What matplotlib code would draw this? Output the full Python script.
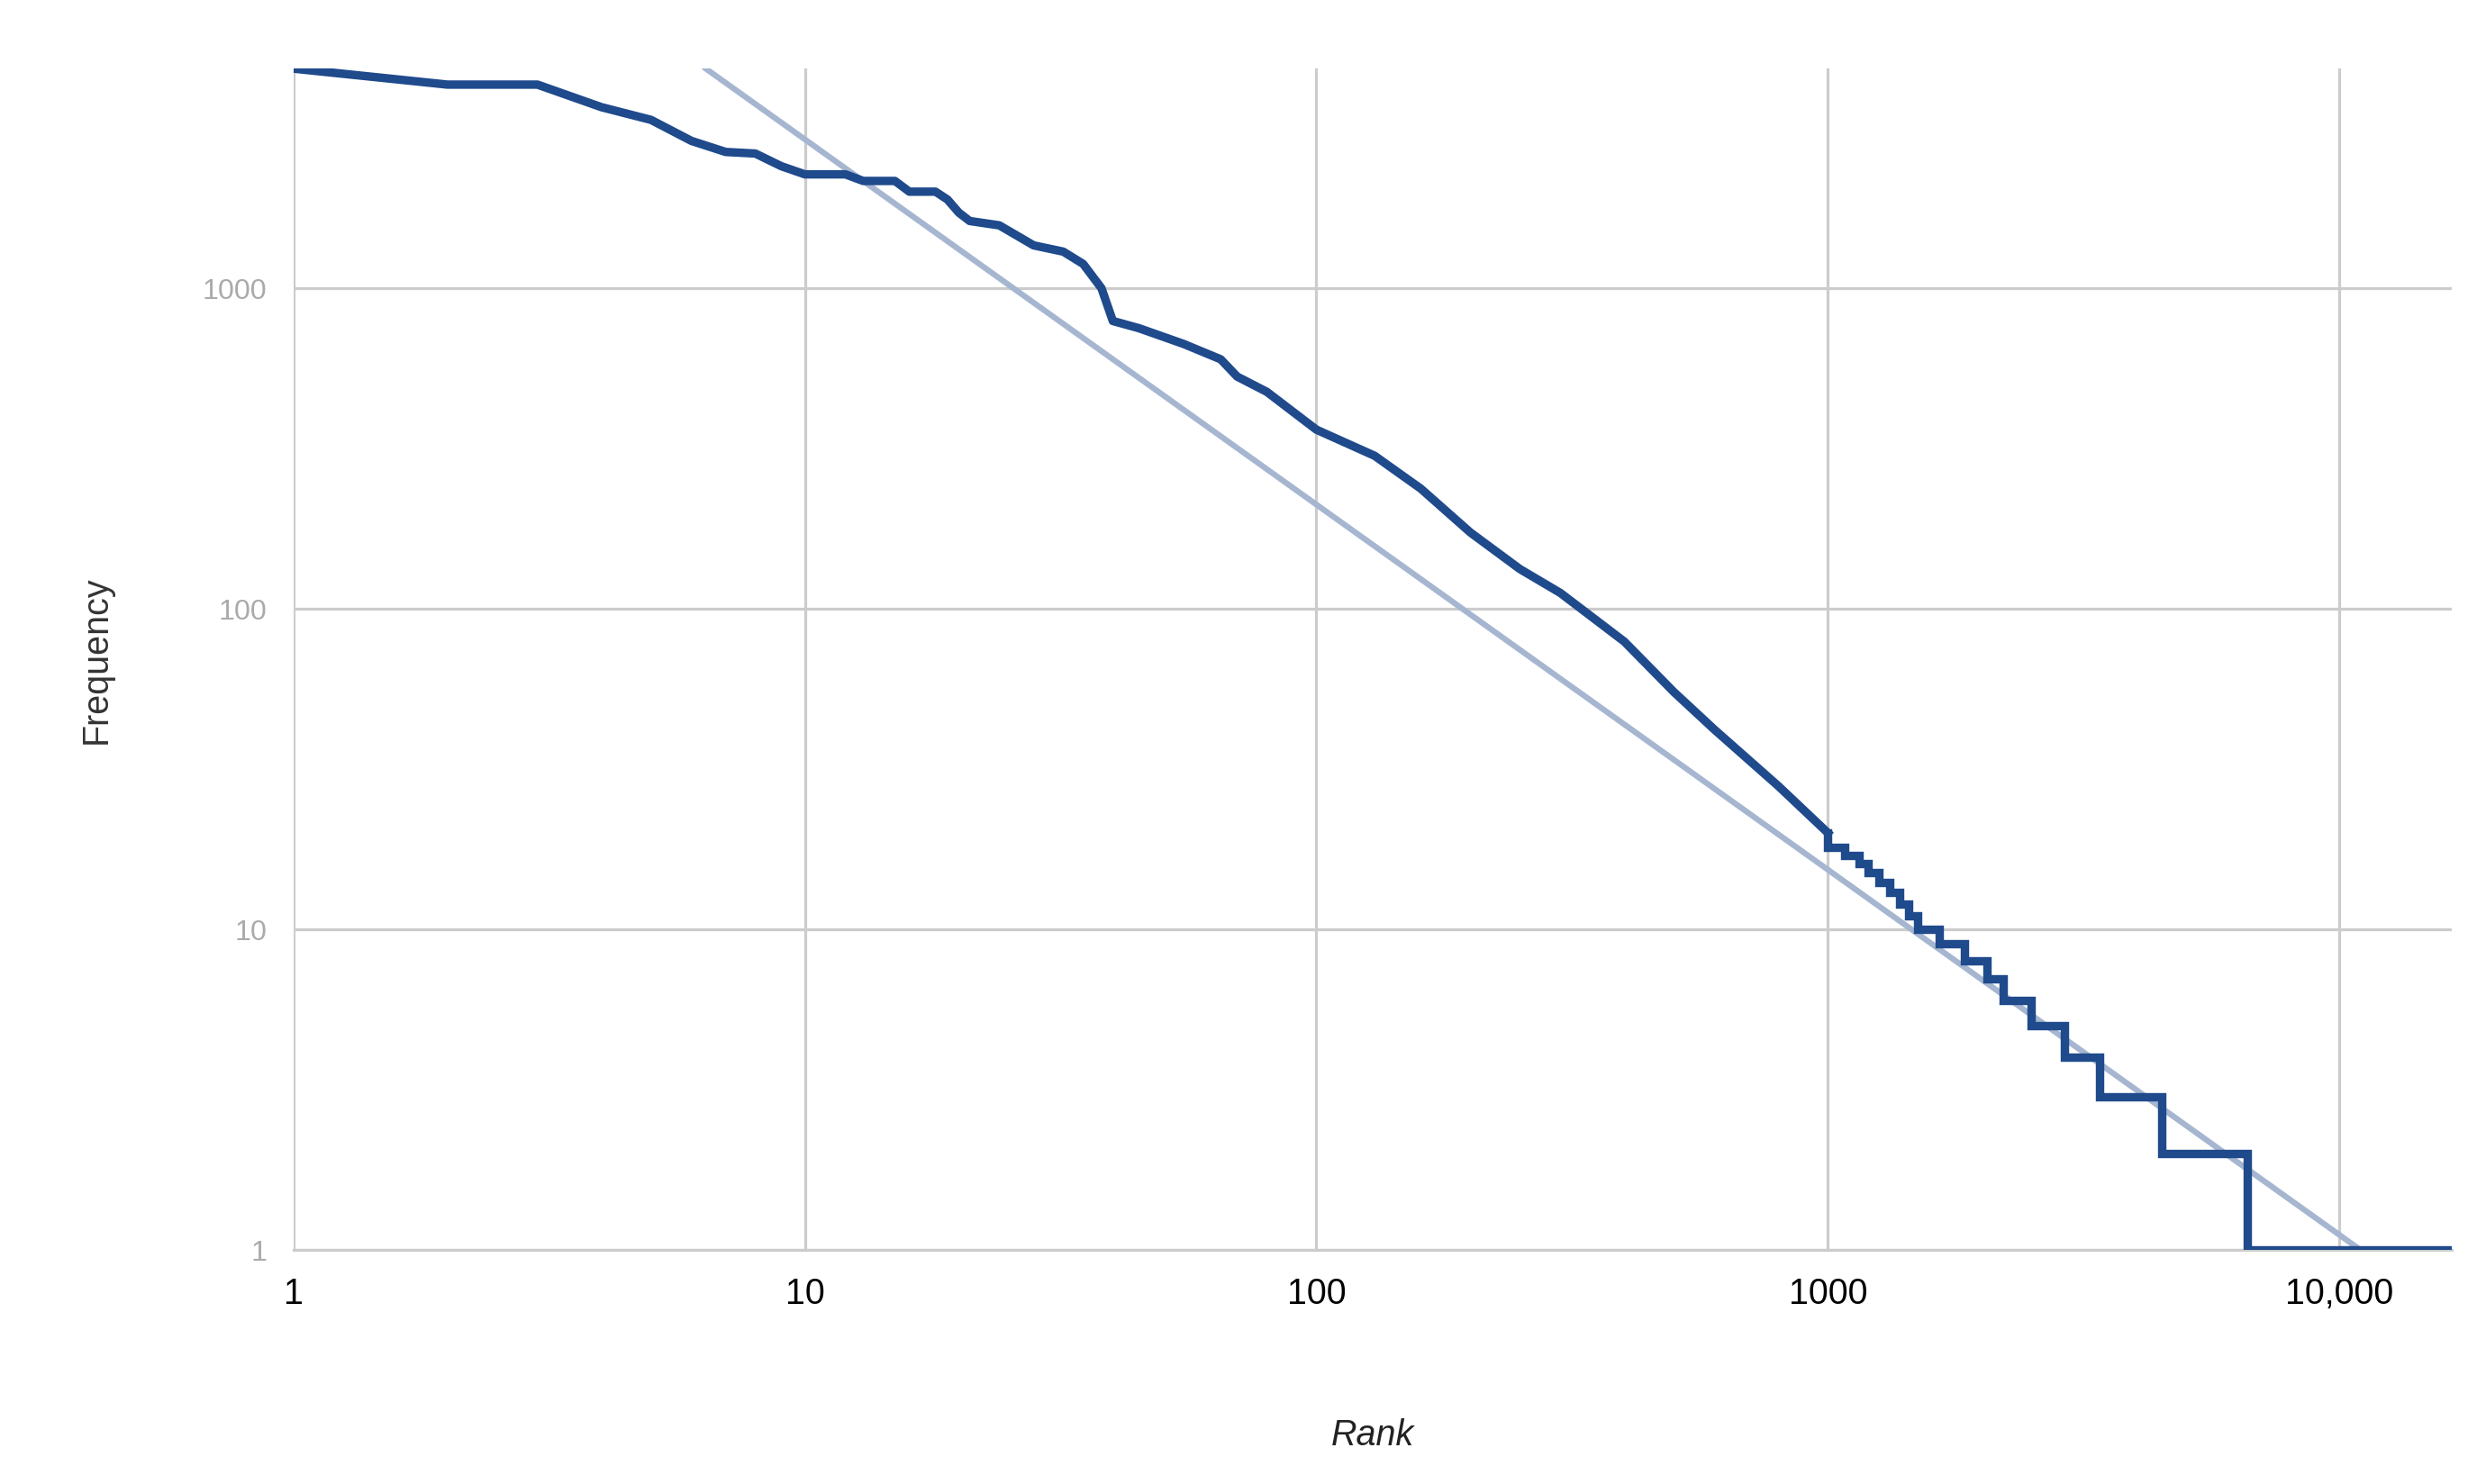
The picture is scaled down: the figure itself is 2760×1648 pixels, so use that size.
import matplotlib.pyplot as plt
from matplotlib.ticker import FixedLocator, NullLocator

plt.rcParams['font.family'] = ['Liberation Sans', 'DejaVu Sans']

ranks = [1, 2, 3, 4, 5, 6, 7, 8, 9, 10, 12, 13, 15, 16, 18, 19, 20, 21, 24, 28, 32, 35, 38, 40,
         45, 55, 65, 70, 80, 100, 130, 160, 200, 250, 300, 400, 500, 600, 800, 1000,
         1080, 1150, 1200, 1260, 1320, 1380, 1440, 1500, 1650, 1850, 2050, 2200, 2500, 2900,
         3400, 4500, 6600, 16600]
freqs = [4840, 4315, 4315, 3670, 3350, 2880, 2660, 2630, 2400, 2265, 2265, 2160, 2160, 2000, 2000,
         1890, 1720, 1620, 1570, 1360, 1300, 1190, 1000, 790,
         750, 670, 600, 530, 475, 362, 300, 237, 173, 133, 112, 79, 55, 42, 28, 20,
         18, 17, 16, 15, 14, 13, 12, 11, 10, 9, 8, 7, 6, 5,
         4, 3, 2, 1]
n_smooth = 39  # points before the integer-step tail

# power-law fit endpoints
fit_rank = [6.4, 11000]
fit_freq = [4840, 1]

fig = plt.figure(figsize=(15.51, 9.26), dpi=178)
ax = fig.add_axes([0.118, 0.1577, 0.868, 0.7959])
ax.set_xscale('log')
ax.set_yscale('log')

ax.plot(fit_rank, fit_freq, color='#a6b6d0', lw=2.6, zorder=2)
ax.plot(ranks[:n_smooth + 1], freqs[:n_smooth + 1], color='#1f4a8c', lw=3.8, zorder=3)
ax.plot(ranks[n_smooth:], freqs[n_smooth:], color='#1f4a8c', lw=3.8, zorder=3,
        drawstyle='steps-pre', solid_joinstyle='miter')

ax.set_xlim(1, 16600)
ax.set_ylim(1, 4840)
ax.xaxis.set_major_locator(FixedLocator([1, 10, 100, 1000, 10000]))
ax.yaxis.set_major_locator(FixedLocator([1, 10, 100, 1000]))
ax.xaxis.set_minor_locator(NullLocator())
ax.yaxis.set_minor_locator(NullLocator())
ax.set_xticklabels(['1', '10', '100', '1000', '10,000'], fontsize=16, color='black')
ax.set_yticklabels(['1', '10', '100', '1000'], fontsize=13, color='#aaaaaa')
ax.grid(True, color='#cccccc', lw=1.3)
ax.tick_params(length=0, pad=12)
for s in ['top', 'right', 'left']:
    ax.spines[s].set_visible(False)
ax.spines['bottom'].set_color('#cccccc')
ax.spines['bottom'].set_linewidth(1.3)

ax.set_xlabel('Rank', fontsize=16, style='italic', color='#222222', labelpad=48)
ax.set_ylabel('Frequency', fontsize=16, color='#333333', labelpad=40)

fig.savefig('out.png', dpi=178)
